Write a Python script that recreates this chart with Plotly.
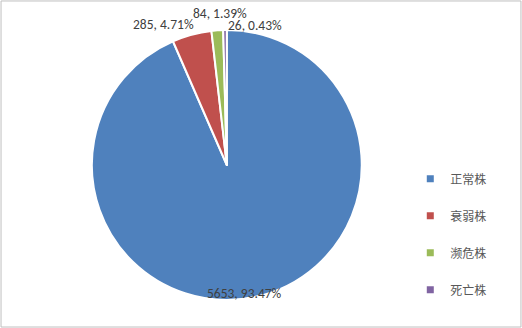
import plotly.graph_objects as go

categories = ["正常株", "衰弱株", "濒危株", "死亡株"]
counts = [5653, 285, 84, 26]
percents = ["93.47%", "4.71%", "1.39%", "0.43%"]
colors = ["#4F81BD", "#C0504D", "#9BBB59", "#8064A2"]

labels_text = [f"{c}, {p}" for c, p in zip(counts, percents)]
# label anchor positions (paper coords), Excel-style manual placement
label_pos = [(0.468, 0.104), (0.313, 0.924), (0.421, 0.96), (0.489, 0.922)]

fig = go.Figure()
fig.add_trace(go.Pie(
    labels=categories, values=counts,
    textinfo="none", sort=False, direction="clockwise", rotation=0,
    marker=dict(colors=colors, line=dict(color="white", width=2)),
    showlegend=False,
    automargin=False,
    domain=dict(x=[0.176, 0.693], y=[0.085, 0.909]),
))
for cat, col in zip(categories, colors):
    fig.add_trace(go.Scatter(
        x=[None], y=[None], mode="markers", name=cat, legendgroup=cat,
        marker=dict(symbol="square", size=7, color=col),
    ))

annotations = []
for t, (ax, ay) in zip(labels_text, label_pos):
    annotations.append(dict(text=t, x=ax, y=ay, xref="paper", yref="paper",
                            showarrow=False, xanchor="center", yanchor="middle",
                            font=dict(family="Carlito, Calibri, Liberation Sans, sans-serif",
                                      size=13.5, color="#404040")))

fig.update_layout(
    width=522, height=328,
    margin=dict(l=0, r=0, t=0, b=0),
    paper_bgcolor="white", plot_bgcolor="white",
    xaxis=dict(visible=False), yaxis=dict(visible=False),
    legend=dict(x=0.786, y=0.499, xanchor="left", yanchor="top",
                tracegroupgap=18, itemwidth=30,
                font=dict(family="Noto Sans CJK SC", size=12, color="#595959")),
    annotations=annotations,
    shapes=[dict(type="rect", xref="paper", yref="paper", x0=0.002, y0=0.003, x1=0.998, y1=0.997,
                 line=dict(color="#BFBFBF", width=1))],
)
fig.write_html("out.html")
